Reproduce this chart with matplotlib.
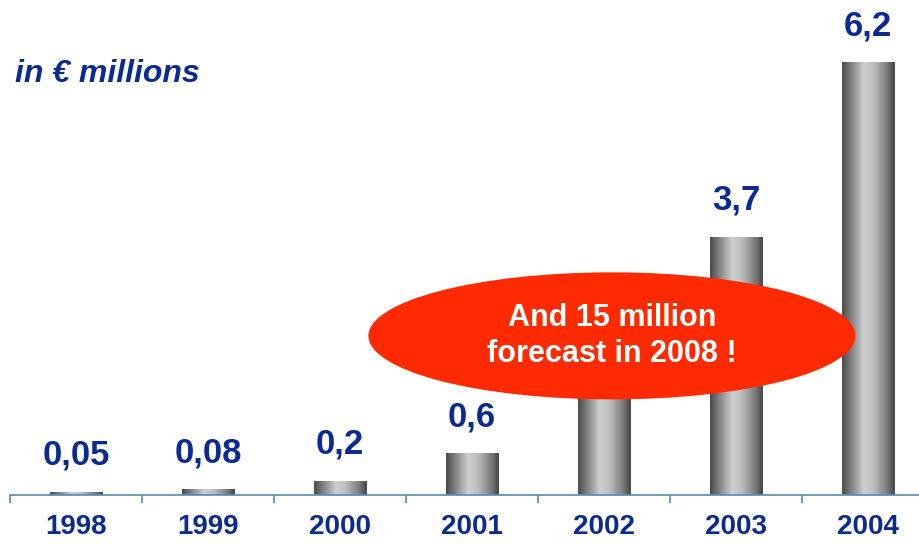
import numpy as np
import matplotlib
matplotlib.use("Agg")
import matplotlib.pyplot as plt
from matplotlib.patches import Ellipse
from matplotlib.colors import LinearSegmentedColormap

years = ["1998", "1999", "2000", "2001", "2002", "2003", "2004"]
values = [0.05, 0.08, 0.2, 0.6, 2.0, 3.7, 6.2]
# the 2002 label is hidden behind the callout in the reference
value_labels = ["0,05", "0,08", "0,2", "0,6", "", "3,7", "6,2"]
unit_label = "in € millions"
callout_text = "And 15 million\nforecast in 2008 !"

NAVY = "#0c2a8f"
AXIS = "#5b86b8"
RED = "#ff2a00"

plt.rcParams["font.family"] = ["Liberation Sans", "DejaVu Sans"]

fig = plt.figure(figsize=(9.2, 5.44), dpi=100)
fig.patch.set_facecolor("white")
W, H = 920, 544
left_px, base_px = 10, 49
px_per_cat = 132
px_per_unit = 69.8
ax_w = W - left_px
ax_h = 495 - 0
ax = fig.add_axes([left_px / W, base_px / H, ax_w / W, ax_h / H])
ax.set_xlim(-0.5, -0.5 + ax_w / px_per_cat)
ax.set_ylim(0, ax_h / px_per_unit)
ax.patch.set_alpha(0)

x = np.arange(len(years))
bars = ax.bar(x, values, width=0.4, color="none", edgecolor="none", zorder=2)

# cylinder shading
cmap = LinearSegmentedColormap.from_list(
    "cyl", [(0.0, "#4a4a4a"), (0.15, "#7a7a7a"), (0.42, "#cfcfcf"),
            (0.6, "#bdbdbd"), (0.85, "#7c7c7c"), (1.0, "#454545")])
grad = np.linspace(0, 1, 256).reshape(1, -1)
for b in bars:
    x0, y0 = b.get_x(), b.get_y()
    w, h = b.get_width(), b.get_height()
    im = ax.imshow(grad, cmap=cmap, extent=[x0, x0 + w, y0, y0 + h],
                   aspect="auto", zorder=2, interpolation="bilinear")
    im.set_clip_path(b)

for xi, v, lab in zip(x, values, value_labels):
    if not lab:
        continue
    ax.annotate(lab, (xi, v), xytext=(0, 19.5), textcoords="offset points",
                ha="center", va="baseline", fontsize=25, fontweight="bold",
                color=NAVY, zorder=3)

# axis styling
for s in ["top", "right", "left"]:
    ax.spines[s].set_visible(False)
ax.spines["bottom"].set_color(AXIS)
ax.spines["bottom"].set_linewidth(1.2)
ax.set_yticks([])
ax.set_xticks(x)
ax.set_xticklabels(years, fontsize=20, fontweight="bold", color=NAVY)
ax.tick_params(axis="x", which="major", length=0, pad=13.5)
ax.set_xticks(np.arange(len(years)) - 0.5, minor=True)
ax.tick_params(axis="x", which="minor", length=6, width=1.2, color=AXIS,
               direction="out")

# callout
ell = Ellipse((4.06, 2.28), width=3.69, height=1.82, facecolor=RED,
              edgecolor="none", zorder=5)
ax.add_patch(ell)
ax.text(4.06, 2.28, callout_text, ha="center", va="center", fontsize=22,
        fontweight="bold", color="white", zorder=6, linespacing=1.25)

fig.text(15 / W, 1 - 82 / H, unit_label, fontsize=23, fontweight="bold",
         fontstyle="italic", color=NAVY, ha="left", va="baseline")

fig.savefig("out.png", dpi=100, facecolor="white")
